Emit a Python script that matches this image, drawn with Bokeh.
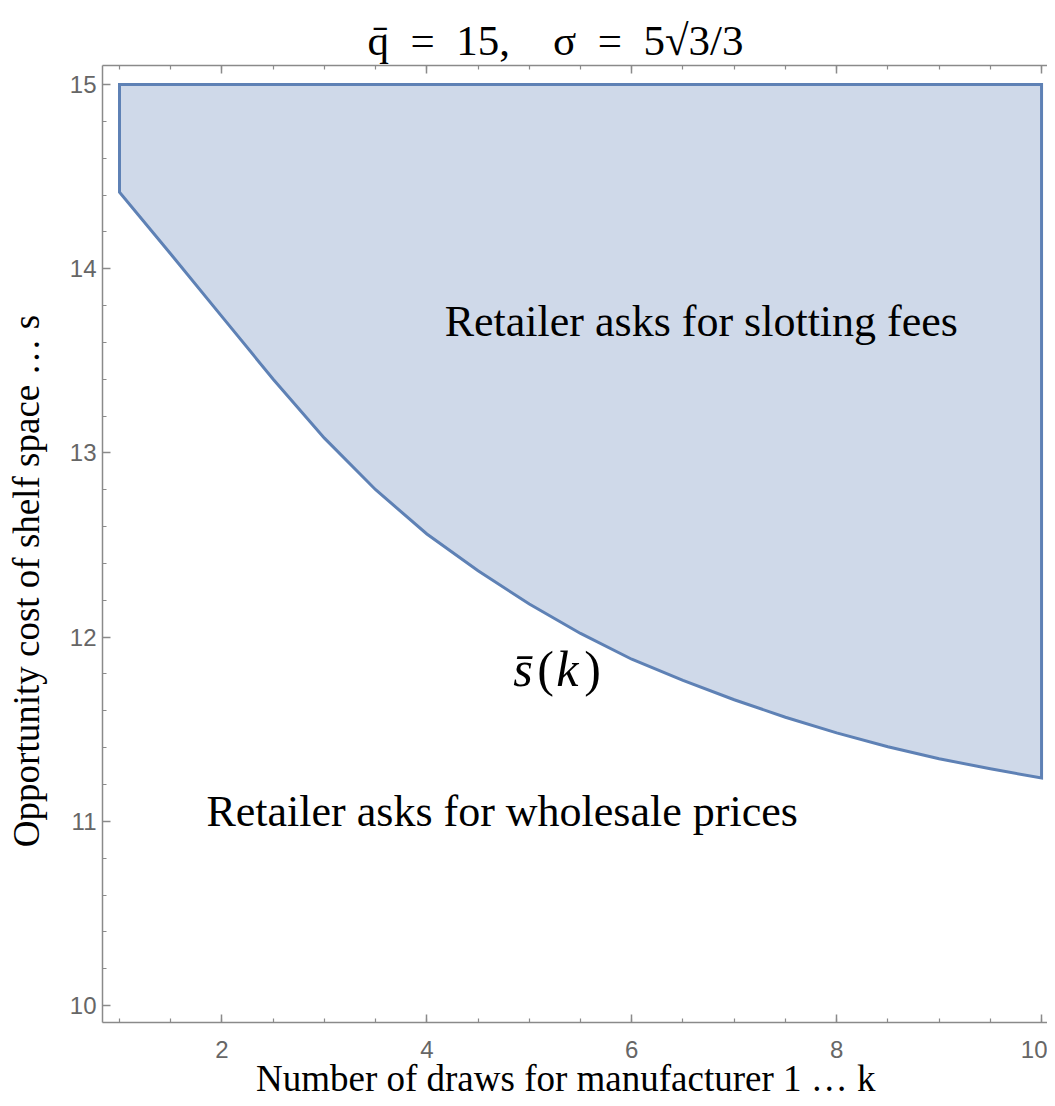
from bokeh.plotting import figure
from bokeh.models import Range1d, LinearAxis, SingleIntervalTicker, Label, Title
from bokeh.embed import file_html
from bokeh.resources import INLINE

# ---- data ----
k_draws = [1.0, 1.5, 2.0, 2.5, 3.0, 3.5, 4.0, 4.5, 5.0, 5.5, 6.0, 6.5, 7.0, 7.5, 8.0, 8.5, 9.0, 9.5, 10.0]
s_bar = [14.415, 14.08, 13.74, 13.40, 13.08, 12.80, 12.56, 12.36, 12.18, 12.02, 11.88,
         11.765, 11.66, 11.565, 11.48, 11.405, 11.34, 11.285, 11.235]
s_top = 15.0

x_major_interval = 2
y_major_interval = 1

title_text = "q\u0304\u2002=\u200215,\u2003\u03c3\u2002=\u20025\u221a3/3"
x_label_text = "Number of draws for manufacturer 1 \u2026 k\u2002"
y_label_text = "Opportunity cost of shelf space \u2026 s\u2002\u2002\u2002\u2002"
region_upper = "Retailer asks for slotting fees"
region_lower = "Retailer asks for wholesale prices"
curve_label_parts = ["s\u0304", "(", "k", ")"]

LINE = "#5e81b5"
FILL = "#cfd9e9"
AXIS = "#8a8a8a"
TICKLBL = "#666666"
SERIF = "Liberation Serif"

p = figure(width=1047, height=1106,
           x_range=Range1d(0.834, 10.058), y_range=Range1d(9.908, 15.103),
           output_backend="svg", toolbar_location=None,
           x_axis_location=None, y_axis_location=None,
           min_border_left=102, min_border_right=0, min_border_top=65, min_border_bottom=84)
p.grid.visible = False
p.outline_line_color = None
p.background_fill_color = "white"
p.border_fill_color = "white"


def style_axis(ax):
    ax.axis_line_color = AXIS
    ax.axis_line_width = 1.5
    ax.major_tick_line_color = AXIS
    ax.minor_tick_line_color = AXIS
    ax.major_tick_line_width = 1.5
    ax.minor_tick_line_width = 1.2
    ax.major_tick_in = 8
    ax.major_tick_out = 0
    ax.minor_tick_in = 4
    ax.minor_tick_out = 0
    ax.major_label_text_font = "Liberation Sans"
    ax.major_label_text_font_size = "24px"
    ax.major_label_text_color = TICKLBL


# top frame edge: ticks only (labels not drawn)
xt = LinearAxis(ticker=SingleIntervalTicker(interval=x_major_interval, num_minor_ticks=4))
style_axis(xt)
xt.major_label_text_font_size = "1px"
xt.major_label_text_color = None
xt.major_label_standoff = 0
p.add_layout(xt, "above")

xa = LinearAxis(ticker=SingleIntervalTicker(interval=x_major_interval, num_minor_ticks=4))
style_axis(xa)
xa.major_label_standoff = 18
xa.axis_label = x_label_text
xa.axis_label_text_font = SERIF
xa.axis_label_text_font_size = "37px"
xa.axis_label_text_font_style = "normal"
xa.axis_label_text_color = "black"
xa.axis_label_standoff = -3
p.add_layout(xa, "below")

ya = LinearAxis(ticker=SingleIntervalTicker(interval=y_major_interval, num_minor_ticks=5))
style_axis(ya)
ya.major_label_standoff = 6
ya.axis_label = y_label_text
ya.axis_label_text_font = SERIF
ya.axis_label_text_font_size = "37px"
ya.axis_label_text_font_style = "normal"
ya.axis_label_text_color = "black"
ya.axis_label_standoff = 20
p.add_layout(ya, "left")

p.add_layout(Title(text=title_text, align="left", offset=265, text_font=SERIF,
                   text_font_size="43px", text_font_style="normal", text_color="black",
                   standoff=4), "above")

# region polygon: top edge at s_top, lower edge along s_bar(k)
xs = [k_draws[0]] + k_draws + [k_draws[-1]]
ys = [s_top] + s_bar + [s_top]
p.patch(xs, ys, fill_color=FILL, line_color=LINE, line_width=3, line_join="miter")


def lab(x, y, text, size, italic=False, align="left", baseline="middle"):
    p.add_layout(Label(x=x, y=y, text=text, text_font=SERIF, text_font_size=size,
                       text_font_style="italic" if italic else "normal",
                       text_color="black", text_align=align, text_baseline=baseline))


# region texts
lab(6.679, 13.713, region_upper, "44px", align="center")
lab(4.735, 11.053, region_lower, "44px", align="center")

# curve label  s̄(k)
lab(4.843, 11.827, curve_label_parts[0], "50px", italic=True)
lab(5.077, 11.827, curve_label_parts[1], "50px")
lab(5.262, 11.827, curve_label_parts[2], "50px", italic=True)
lab(5.536, 11.827, curve_label_parts[3], "50px")

open("out.html", "w").write(file_html(p, INLINE))
